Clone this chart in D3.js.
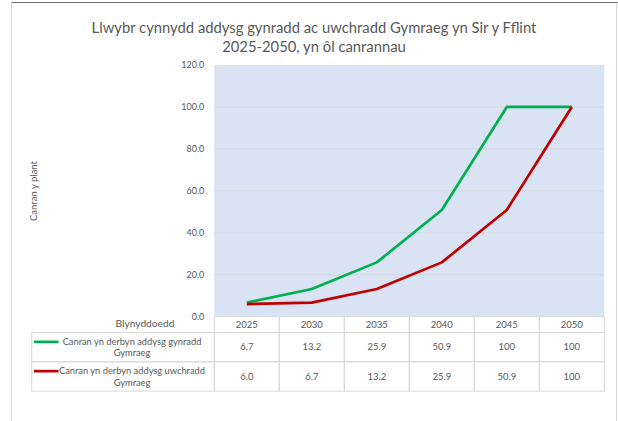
<!DOCTYPE html>
<html>
<head>
<meta charset="utf-8">
<script src="https://cdn.jsdelivr.net/npm/d3@7"></script>
<style>
  body { margin: 0; background: #fff; }
  svg { display: block; font-family: Lato, "Open Sans", sans-serif; }
</style>
</head>
<body>
<svg id="chart" width="618" height="421"></svg>
<script>
// Chart data
const years = ["2025", "2030", "2035", "2040", "2045", "2050"];
const primaryValues = [6.7, 13.2, 25.9, 50.9, 100, 100];
const secondaryValues = [6.0, 6.7, 13.2, 25.9, 50.9, 100];
const seriesNames = [
  ["Canran yn derbyn addysg gynradd", "Gymraeg"],
  ["Canran yn derbyn addysg uwchradd", "Gymraeg"]
];
const yTicks = [0, 20, 40, 60, 80, 100, 120];
const titleLines = [
  "Llwybr cynnydd addysg gynradd ac uwchradd Gymraeg yn Sir y Fflint",
  "2025-2050, yn ôl canrannau"
];

const series = [
  { name: seriesNames[0], values: primaryValues, color: "#00b050" },
  { name: seriesNames[1], values: secondaryValues, color: "#c00000" }
];

const textColor = "#595959";
const gridColor = "#d2d6dc";
const cellBorder = "#d9d9d9";

const svg = d3.select("#chart");

// Frame around the picture
svg.append("line")
  .attr("x1", 11).attr("x2", 618).attr("y1", 2.5).attr("y2", 2.5)
  .attr("stroke", "#6f6f6f").attr("stroke-width", 1.2);
svg.append("line")
  .attr("x1", 11.5).attr("x2", 11.5).attr("y1", 2.5).attr("y2", 421)
  .attr("stroke", "#d9d9d9");
svg.append("line")
  .attr("x1", 616.5).attr("x2", 616.5).attr("y1", 2.5).attr("y2", 421)
  .attr("stroke", "#d9d9d9");

// Title
svg.append("text")
  .attr("x", 314).attr("y", 32.5)
  .attr("text-anchor", "middle")
  .attr("font-size", 14.8)
  .attr("fill", textColor)
  .selectAll("tspan")
  .data(titleLines)
  .enter().append("tspan")
  .attr("x", 314)
  .attr("dy", (d, i) => i === 0 ? 0 : 19.5)
  .text(d => d);

// Scales
const plot = { left: 214.3, right: 604.3, top: 65, bottom: 316.7 };
const x = d3.scaleBand().domain(years).range([plot.left, plot.right]);
const y = d3.scaleLinear().domain([0, 120]).range([plot.bottom, plot.top]);
const cx = d => x(d) + x.bandwidth() / 2;

// Plot background
svg.append("rect")
  .attr("x", plot.left).attr("y", plot.top)
  .attr("width", plot.right - plot.left)
  .attr("height", plot.bottom - plot.top)
  .attr("fill", "#dae3f3");

// Gridlines
svg.append("g")
  .selectAll("line")
  .data(yTicks.filter(t => t > 0 && t < 120))
  .enter().append("line")
  .attr("x1", plot.left).attr("x2", plot.right)
  .attr("y1", d => y(d)).attr("y2", d => y(d))
  .attr("stroke", gridColor).attr("stroke-width", 0.8);

// Y axis labels
const yAxis = svg.append("g")
  .attr("transform", `translate(${plot.left},0)`)
  .call(d3.axisLeft(y).tickValues(yTicks).tickFormat(d3.format(".1f")).tickSize(0).tickPadding(10));
yAxis.select(".domain").remove();
yAxis.selectAll("text")
  .attr("fill", textColor)
  .attr("font-size", 9)
  .attr("font-family", "Lato, sans-serif");

// Y axis title
svg.append("text")
  .attr("transform", "translate(37,191) rotate(-90)")
  .attr("text-anchor", "middle")
  .attr("font-size", 9.5)
  .attr("fill", textColor)
  .text("Canran y plant");

// Lines
const line = d3.line()
  .x((d, i) => cx(years[i]))
  .y(d => y(d));

svg.append("g")
  .selectAll("path")
  .data(series)
  .enter().append("path")
  .attr("d", d => line(d.values))
  .attr("fill", "none")
  .attr("stroke", d => d.color)
  .attr("stroke-width", 2.7)
  .attr("stroke-linejoin", "round");

// Data table under the chart
const table = { labelLeft: 31.7, headerBottom: 332.5, rowHeight: 29.3 };
const rowTop = i => table.headerBottom + i * table.rowHeight;
const fmt = v => v >= 100 ? String(v) : v.toFixed(1);

const grid = svg.append("g")
  .attr("stroke", cellBorder)
  .attr("stroke-width", 1)
  .attr("fill", "none");

// header cells
grid.selectAll(".hcell")
  .data(years)
  .enter().append("rect")
  .attr("x", d => x(d)).attr("y", plot.bottom)
  .attr("width", x.bandwidth()).attr("height", table.headerBottom - plot.bottom);

// body cells
series.forEach((s, i) => {
  grid.append("rect")
    .attr("x", table.labelLeft).attr("y", rowTop(i))
    .attr("width", plot.left - table.labelLeft).attr("height", table.rowHeight);
  grid.selectAll(".cell" + i)
    .data(years)
    .enter().append("rect")
    .attr("x", d => x(d)).attr("y", rowTop(i))
    .attr("width", x.bandwidth()).attr("height", table.rowHeight);
});

svg.append("text")
  .attr("x", 145).attr("y", 326.5)
  .attr("text-anchor", "middle")
  .attr("font-size", 10.2)
  .attr("fill", textColor)
  .text("Blynyddoedd");

svg.append("g")
  .selectAll("text")
  .data(years)
  .enter().append("text")
  .attr("x", d => cx(d)).attr("y", (plot.bottom + table.headerBottom) / 2)
  .attr("dy", "0.35em")
  .attr("text-anchor", "middle")
  .attr("font-size", 9.5)
  .attr("fill", textColor)
  .text(d => d);

series.forEach((s, i) => {
  const mid = rowTop(i) + table.rowHeight / 2;
  const g = svg.append("g");

  g.append("line")
    .attr("x1", 34).attr("x2", 58.5)
    .attr("y1", mid - 5.3).attr("y2", mid - 5.3)
    .attr("stroke", s.color).attr("stroke-width", 2.7);

  g.selectAll("text.label")
    .data(s.name)
    .enter().append("text")
    .attr("x", 132).attr("y", (d, j) => mid + (j === 0 ? -5.6 : 6))
    .attr("dy", "0.35em")
    .attr("text-anchor", "middle")
    .attr("font-size", 9.3)
    .attr("fill", textColor)
    .text(d => d);

  g.selectAll("text.val")
    .data(s.values)
    .enter().append("text")
    .attr("x", (d, j) => cx(years[j])).attr("y", mid)
    .attr("dy", "0.35em")
    .attr("text-anchor", "middle")
    .attr("font-size", 9.5)
    .attr("fill", textColor)
    .text(d => fmt(d));
});
</script>
</body>
</html>
